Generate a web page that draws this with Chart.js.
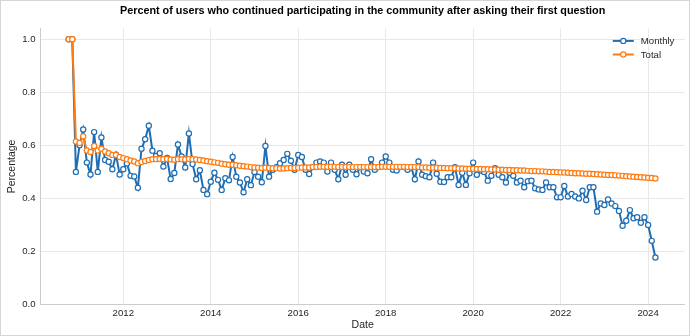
<!DOCTYPE html>
<html>
<head>
<meta charset="utf-8">
<script src="https://cdn.jsdelivr.net/npm/chart.js@4.4.1/dist/chart.umd.min.js"></script>
<style>
  html, body { margin: 0; padding: 0; background: #fff; }
  #wrap { width: 690px; height: 336px; }
</style>
</head>
<body>
<div id="wrap"><canvas id="chart" width="690" height="336"></canvas></div>
<script>
// Series starts October 2010, one value per month
const startYear = 2010;
const startMonth = 10;

const monthly = [
  1.0, 1.0, 0.50, 0.60, 0.66, 0.535, 0.49, 0.65, 0.50, 0.63,
  0.545, 0.538, 0.51, 0.565, 0.49, 0.51, 0.532, 0.485, 0.483, 0.44,
  0.587, 0.623, 0.674, 0.58, 0.56, 0.57, 0.52, 0.553, 0.473, 0.496,
  0.603, 0.558, 0.517, 0.645, 0.53, 0.472, 0.506, 0.432, 0.416, 0.463,
  0.497, 0.47, 0.432, 0.476, 0.468, 0.556, 0.482, 0.46, 0.423, 0.472,
  0.45, 0.50, 0.482, 0.461, 0.598, 0.482, 0.508, 0.518, 0.533, 0.545,
  0.568, 0.542, 0.508, 0.564, 0.556, 0.508, 0.492, 0.518, 0.535, 0.539,
  0.535, 0.501, 0.535, 0.508, 0.472, 0.527, 0.489, 0.527, 0.508, 0.491,
  0.518, 0.501, 0.495, 0.548, 0.508, 0.518, 0.535, 0.558, 0.535, 0.508,
  0.505, 0.518, 0.518, 0.508, 0.518, 0.472, 0.539, 0.489, 0.484, 0.48,
  0.535, 0.493, 0.463, 0.462, 0.48, 0.48, 0.518, 0.451, 0.497, 0.451,
  0.495, 0.535, 0.489, 0.505, 0.50, 0.467, 0.485, 0.514, 0.489, 0.48,
  0.46, 0.497, 0.485, 0.46, 0.467, 0.442, 0.465, 0.467, 0.438, 0.434,
  0.432, 0.46, 0.442, 0.442, 0.404, 0.404, 0.447, 0.407, 0.417, 0.407,
  0.40, 0.429, 0.394, 0.442, 0.442, 0.35, 0.381, 0.375, 0.396, 0.381,
  0.371, 0.353, 0.297, 0.316, 0.356, 0.325, 0.329, 0.308, 0.329, 0.30,
  0.24, 0.177
];

const total = [
  1.0, 1.0, 0.615, 0.609, 0.634, 0.581, 0.575, 0.598, 0.581, 0.587,
  0.577, 0.570, 0.564, 0.564, 0.556, 0.552, 0.548, 0.543, 0.539, 0.533,
  0.537, 0.541, 0.545, 0.548, 0.548, 0.549, 0.548, 0.549, 0.547, 0.546,
  0.548, 0.548, 0.547, 0.549, 0.548, 0.547, 0.545, 0.543, 0.540, 0.538,
  0.536, 0.534, 0.531, 0.529, 0.527, 0.527, 0.525, 0.523, 0.521, 0.520,
  0.518, 0.517, 0.516, 0.515, 0.516, 0.515, 0.514, 0.514, 0.513, 0.513,
  0.514, 0.515, 0.515, 0.516, 0.517, 0.517, 0.517, 0.518, 0.518, 0.519,
  0.519, 0.519, 0.519, 0.519, 0.518, 0.518, 0.518, 0.518, 0.518, 0.518,
  0.518, 0.518, 0.518, 0.518, 0.518, 0.518, 0.519, 0.519, 0.519, 0.519,
  0.519, 0.519, 0.519, 0.518, 0.518, 0.518, 0.518, 0.517, 0.517, 0.516,
  0.516, 0.516, 0.515, 0.515, 0.514, 0.514, 0.514, 0.513, 0.513, 0.512,
  0.512, 0.512, 0.511, 0.511, 0.510, 0.510, 0.509, 0.509, 0.508, 0.508,
  0.507, 0.507, 0.506, 0.506, 0.505, 0.505, 0.504, 0.503, 0.503, 0.502,
  0.502, 0.501, 0.500, 0.500, 0.499, 0.498, 0.498, 0.497, 0.496, 0.495,
  0.495, 0.494, 0.493, 0.493, 0.492, 0.491, 0.490, 0.489, 0.488, 0.488,
  0.487, 0.486, 0.485, 0.484, 0.483, 0.482, 0.481, 0.480, 0.479, 0.478,
  0.477, 0.475
];

const xTicks = [2012, 2014, 2016, 2018, 2020, 2022, 2024];
const yTicks = [0, 0.2, 0.4, 0.6, 0.8, 1.0];
const titleText = "Percent of users who continued participating in the community after asking their first question";

// month positions as decimal years
const months = monthly.map((_, i) => startYear + (startMonth - 1 + i) / 12);

const blue = "#1f6db3";
const orange = "#ff7b10";
const textColor = "#262626";
const fontFamily = "'Liberation Sans', Arial, sans-serif";
Chart.defaults.font.family = fontFamily;

// white background, title over the plot centre, thin frame round the figure
const framePlugin = {
  id: "frame",
  beforeDraw(chart) {
    const ctx = chart.ctx;
    ctx.save();
    ctx.fillStyle = "#fff";
    ctx.fillRect(0, 0, chart.width, chart.height);
    ctx.restore();
  },
  afterDraw(chart) {
    const { ctx, chartArea } = chart;
    ctx.save();
    ctx.fillStyle = "#000";
    ctx.font = "bold 10.8px " + fontFamily;
    ctx.textAlign = "center";
    ctx.textBaseline = "middle";
    ctx.fillText(titleText, (chartArea.left + chartArea.right) / 2, 11);
    ctx.strokeStyle = "#d6d6d6";
    ctx.lineWidth = 1;
    ctx.strokeRect(0.5, 0.5, chart.width - 1, chart.height - 1);
    ctx.restore();
  },
};

// legend inside the plot: short line with a hollow marker, then the label
const lineLegend = {
  id: "lineLegend",
  afterDraw(chart) {
    const { ctx, chartArea } = chart;
    const x0 = chartArea.right - 72;
    ctx.save();
    chart.data.datasets.forEach((ds, i) => {
      const y = chartArea.top + 12.5 + i * 13.6;
      ctx.strokeStyle = ds.borderColor;
      ctx.lineWidth = 2;
      ctx.beginPath();
      ctx.moveTo(x0, y);
      ctx.lineTo(x0 + 21, y);
      ctx.stroke();
      ctx.fillStyle = "#fff";
      ctx.lineWidth = 1.2;
      ctx.beginPath();
      ctx.arc(x0 + 10.5, y, 2.6, 0, Math.PI * 2);
      ctx.fill();
      ctx.stroke();
      ctx.fillStyle = textColor;
      ctx.font = "9.6px " + fontFamily;
      ctx.textBaseline = "middle";
      ctx.textAlign = "left";
      ctx.fillText(ds.label, x0 + 28, y + 0.5);
    });
    ctx.restore();
  },
};

new Chart(document.getElementById("chart"), {
  type: "line",
  plugins: [framePlugin, lineLegend],
  data: {
    datasets: [
      {
        label: "Monthly",
        data: months.map((x, i) => ({ x: x, y: monthly[i] })),
        borderColor: blue,
        backgroundColor: "#fff",
        borderWidth: 2,
        pointRadius: 2.6,
        pointBorderWidth: 1.2,
        pointBackgroundColor: "#fff",
        pointBorderColor: blue,
        tension: 0,
        order: 1,
      },
      {
        label: "Total",
        data: months.map((x, i) => ({ x: x, y: total[i] })),
        borderColor: orange,
        backgroundColor: "#fff",
        borderWidth: 2,
        pointRadius: 2.6,
        pointBorderWidth: 1.2,
        pointBackgroundColor: "#fff",
        pointBorderColor: orange,
        tension: 0,
        order: 0,
      },
    ],
  },
  options: {
    responsive: false,
    animation: false,
    devicePixelRatio: 1,
    layout: { padding: { left: 0, right: 5, top: 28.4, bottom: 0 } },
    plugins: {
      legend: { display: false },
      tooltip: { enabled: false },
      title: { display: false },
    },
    scales: {
      x: {
        type: "linear",
        min: 2010.107,
        max: 2024.839,
        afterBuildTicks: (scale) => {
          scale.ticks = xTicks.map((v) => ({ value: v }));
        },
        afterFit: (scale) => {
          scale.height = 31.5;
        },
        grid: { color: "#e8e8e8", drawTicks: false },
        border: { color: "#cccccc" },
        ticks: {
          padding: 3,
          color: textColor,
          font: { size: 9.6 },
          maxRotation: 0,
          autoSkip: false,
          callback: (v) => String(v),
        },
        title: {
          display: true,
          text: "Date",
          color: textColor,
          font: { size: 10.5 },
          padding: { top: 0, bottom: 4.7 },
        },
      },
      y: {
        min: 0,
        max: 1.041,
        afterBuildTicks: (scale) => {
          scale.ticks = yTicks.map((v) => ({ value: v }));
        },
        afterFit: (scale) => {
          scale.width = 40.5;
        },
        grid: { color: "#e8e8e8", drawTicks: false },
        border: { color: "#cccccc" },
        ticks: {
          padding: 5,
          color: textColor,
          font: { size: 9.6 },
          callback: (v) => v.toFixed(1),
        },
        title: {
          display: true,
          text: "Percentage",
          color: textColor,
          font: { size: 10.5 },
          padding: { top: 5.5, bottom: 0 },
        },
      },
    },
  },
});
</script>
</body>
</html>
